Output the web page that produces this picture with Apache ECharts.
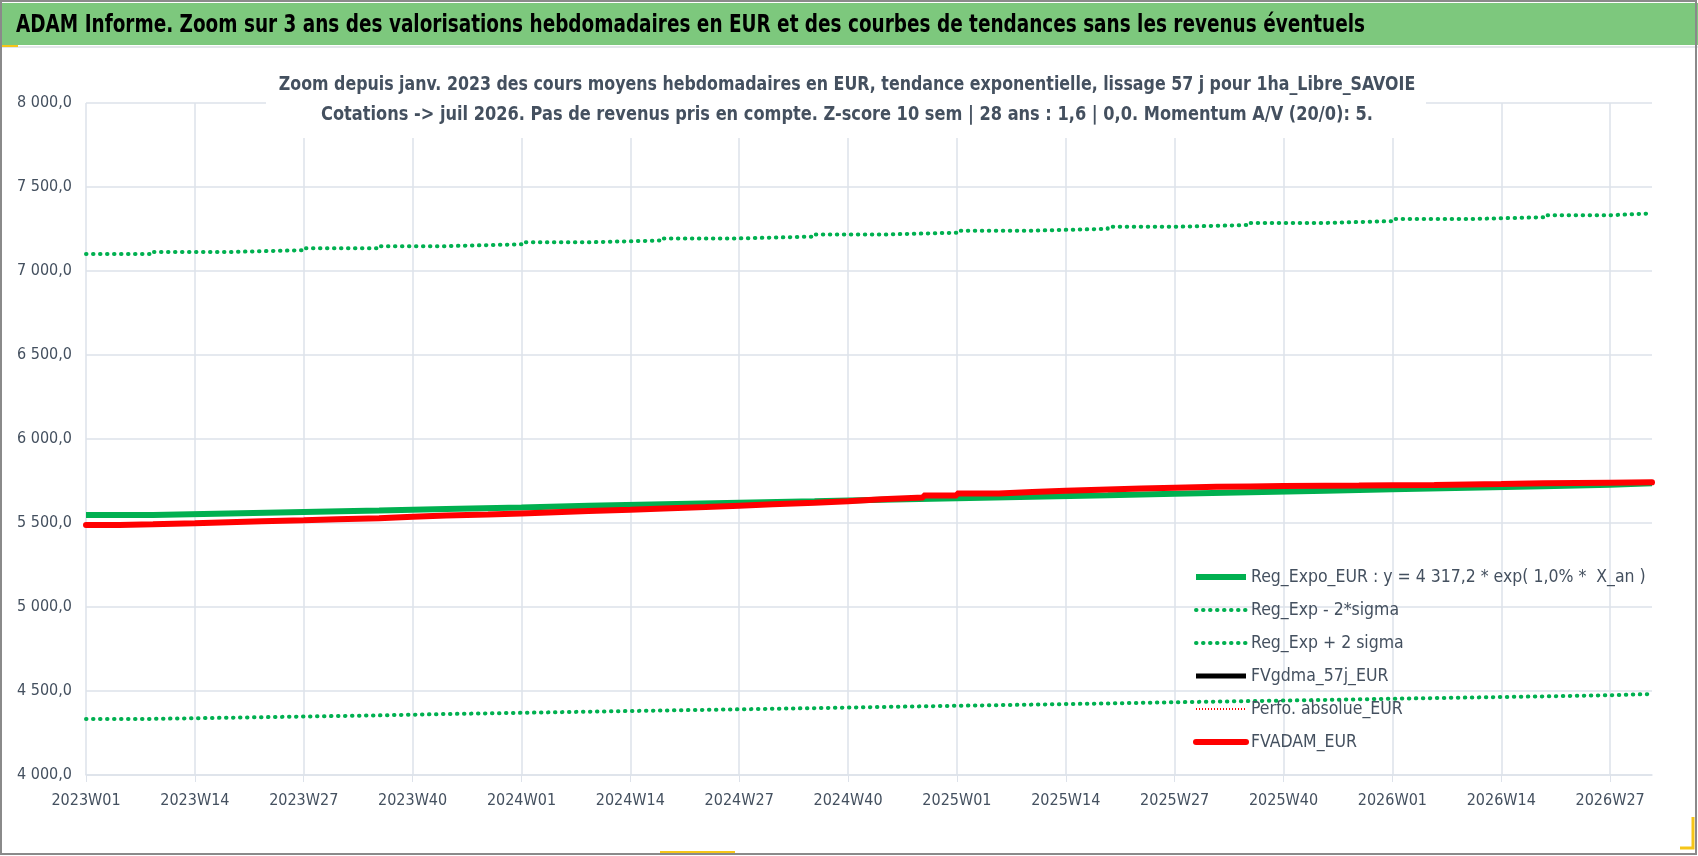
<!DOCTYPE html>
<html>
<head>
<meta charset="utf-8">
<script src="https://cdn.jsdelivr.net/npm/echarts@6/dist/echarts.min.js"></script>
<style>
html,body{margin:0;padding:0;background:#fff;}
#chart{width:1698px;height:856px;}
</style>
</head>
<body>
<div id="chart"></div>
<script>
// semaines affichees sur l'axe X
var years = [2023, 2024, 2025, 2026];
var weeksInYear = [52, 52, 52, 32];

// regression exponentielle et bandes +/- 2 sigma (paliers)
var regWeeks = ['2023W01','2023W09','2023W18','2023W27','2023W36','2023W44',
	'2024W01','2024W09','2024W18','2024W27','2024W36','2024W44',
	'2025W01','2025W10','2025W19','2025W27','2025W36','2025W45',
	'2026W01','2026W10','2026W19','2026W27','2026W32'];
var regExpoEur = [5548,5557,5566,5575,5584,5593,
	5602,5611,5620,5629,5638,5647,
	5656,5665,5674,5683,5692,5701,
	5710,5719,5728,5737,5737];
var regMinus2Sigma = [4334,4341,4348,4355,4363,4370,
	4377,4384,4391,4398,4405,4412,
	4419,4426,4433,4440,4447,4454,
	4461,4468,4475,4482,4482];
var regPlus2Sigma = [7101,7113,7124,7136,7148,7159,
	7171,7182,7194,7205,7217,7228,
	7240,7251,7263,7274,7286,7297,
	7309,7320,7332,7343,7343];

// FVADAM mensuel
var fvWeeks = ['2023W01','2023W05','2023W09','2023W14','2023W18','2023W22','2023W27','2023W31','2023W36','2023W40','2023W44','2023W49',
	'2024W01','2024W05','2024W09','2024W14','2024W18','2024W23','2024W27','2024W31','2024W36','2024W40','2024W44','2024W49',
	'2025W01','2025W06','2025W10','2025W14','2025W19','2025W23','2025W27','2025W32','2025W36','2025W40','2025W45','2025W49',
	'2026W01','2026W06','2026W10','2026W14','2026W19','2026W23','2026W27','2026W32'];
var fvadamEur = [5488,5492,5498,5504,5510,5516,5522,5529,5537,5544,5550,5557,
	5564,5571,5579,5587,5595,5603,5611,5620,5630,5641,5652,5664,
	5676,5684,5692,5700,5705,5710,5716,5718,5720,5722,5723,5725,
	5726,5729,5732,5736,5738,5740,5742,5743];

var names = ['Reg_Expo_EUR : y = 4 317,2 * exp( 1,0% *  X_an )', 'Reg_Exp - 2*sigma', 'Reg_Exp + 2 sigma',
	'FVgdma_57j_EUR', 'Perfo. absolue_EUR', 'FVADAM_EUR'];
var legendWidths = [6, 4, 4, 5, 2, 6];

var mainTitle = 'ADAM Informe. Zoom sur 3 ans des valorisations hebdomadaires en EUR et des courbes de tendances sans les revenus éventuels';
var subLine1 = 'Zoom depuis janv. 2023 des cours moyens hebdomadaires en EUR, tendance exponentielle, lissage 57 j pour 1ha_Libre_SAVOIE';
var subLine2 = 'Cotations -> juil 2026. Pas de revenus pris en compte. Z-score 10 sem | 28 ans : 1,6 | 0,0. Momentum A/V (20/0): 5.';

var FONT = "'DejaVu Sans Condensed','DejaVu Sans','Noto Sans',sans-serif";
var TXT = '#44505f';
var GRID = '#dde2ea';

var categories = [];
for (var y = 0; y < years.length; y++) {
	for (var w = 1; w <= weeksInYear[y]; w++) {
		categories.push(years[y] + 'W' + (w < 10 ? '0' + w : w));
	}
}

function pairs(xs, vs) {
	var out = [];
	for (var i = 0; i < xs.length; i++) {
		out.push([xs[i], vs[i]]);
	}
	return out;
}

function frNum(v) {
	var s = v.toFixed(1).split('.');
	return s[0].replace(/\B(?=(\d{3})+(?!\d))/g, ' ') + ',' + s[1];
}

var legendData = [];
for (var k = 0; k < names.length; k++) {
	legendData.push({ name : names[k], lineStyle : { width : legendWidths[k] } });
}

var chart = echarts.init(document.getElementById('chart'));
var option = {
	backgroundColor : '#fff',
	animation : false,
	textStyle : { fontFamily : FONT },
	graphic : [
		{ type : 'rect', z : 0, shape : { x : 0, y : 3, width : 1698, height : 42 }, style : { fill : '#7dc87d' } },
		{ type : 'line', z : 0, shape : { x1 : 0, y1 : 47, x2 : 1698, y2 : 47 }, style : { stroke : '#e3e6ea', lineWidth : 2 } },
		{ type : 'text', z : 10, x : 16, y : 25, scaleX : 0.82,
			style : { text : mainTitle, font : 'bold 25px ' + FONT, fill : '#000', verticalAlign : 'middle' } },
		{ type : 'rect', z : 5, shape : { x : 266, y : 60, width : 1160, height : 78 }, style : { fill : '#fff' } },
		{ type : 'text', z : 10, x : 847, y : 85, scaleX : 0.88,
			style : { text : subLine1, font : 'bold 20px ' + FONT, fill : TXT, align : 'center', verticalAlign : 'middle' } },
		{ type : 'text', z : 10, x : 847, y : 115, scaleX : 0.9,
			style : { text : subLine2, font : 'bold 20px ' + FONT, fill : TXT, align : 'center', verticalAlign : 'middle' } },
		{ type : 'rect', z : 100, shape : { x : 1, y : 1, width : 1695, height : 853 }, style : { fill : 'none', stroke : '#8a8a8a', lineWidth : 2 } },
		{ type : 'line', z : 100, shape : { x1 : 2, y1 : 46, x2 : 18, y2 : 46 }, style : { stroke : '#f5c518', lineWidth : 2 } },
		{ type : 'polyline', z : 100, shape : { points : [[1680, 848], [1693, 848], [1693, 817]] }, style : { stroke : '#f5c518', lineWidth : 3, fill : 'none' } },
		{ type : 'line', z : 100, shape : { x1 : 660, y1 : 852, x2 : 735, y2 : 852 }, style : { stroke : '#f5c518', lineWidth : 2 } }
	],
	legend : {
		orient : 'vertical',
		left : 1188,
		top : 560,
		itemWidth : 50,
		itemHeight : 14,
		itemGap : 9,
		itemStyle : { opacity : 0 },
		data : legendData,
		textStyle : { fontFamily : FONT, fontSize : 17.5, color : TXT, lineHeight : 24 }
	},
	grid : { left : 86, right : 46, top : 103, bottom : 81 },
	xAxis : [{
		type : 'category',
		data : categories,
		boundaryGap : false,
		axisLine : { lineStyle : { color : GRID, width : 1.5 } },
		axisTick : { show : true, length : 7, interval : 12, lineStyle : { color : GRID } },
		axisLabel : { interval : 12, margin : 18, fontSize : 16, color : TXT, fontFamily : FONT },
		splitLine : { show : true, interval : 12, lineStyle : { color : GRID, width : 1.5 } }
	}],
	yAxis : [{
		type : 'value',
		min : 4000,
		max : 8000,
		interval : 500,
		axisLine : { show : false },
		axisTick : { show : false },
		axisLabel : { margin : 14, fontSize : 16, color : TXT, fontFamily : FONT, formatter : frNum },
		splitLine : { lineStyle : { color : GRID, width : 1.5 } }
	}],
	series : [{
		name : names[0],
		type : 'line',
		step : 'end',
		symbol : 'none',
		data : pairs(regWeeks, regExpoEur),
		lineStyle : { color : '#00b050', width : 6 },
		itemStyle : { color : '#00b050' }
	}, {
		name : names[1],
		type : 'line',
		step : 'end',
		symbol : 'none',
		data : pairs(regWeeks, regMinus2Sigma),
		lineStyle : { color : '#00b050', width : 4, type : [0.5, 6.5], cap : 'round' },
		itemStyle : { color : '#00b050' }
	}, {
		name : names[2],
		type : 'line',
		step : 'end',
		symbol : 'none',
		data : pairs(regWeeks, regPlus2Sigma),
		lineStyle : { color : '#00b050', width : 4, type : [0.5, 6.5], cap : 'round' },
		itemStyle : { color : '#00b050' }
	}, {
		name : names[3],
		type : 'line',
		symbol : 'none',
		data : [],
		lineStyle : { color : '#000', width : 5 },
		itemStyle : { color : '#000' }
	}, {
		name : names[4],
		type : 'line',
		symbol : 'none',
		data : [],
		lineStyle : { color : '#ff0000', width : 2, type : [1, 2] },
		itemStyle : { color : '#ff0000' }
	}, {
		name : names[5],
		type : 'line',
		step : 'end',
		symbol : 'none',
		data : pairs(fvWeeks, fvadamEur),
		lineStyle : { color : '#ff0000', width : 6, cap : 'round' },
		itemStyle : { color : '#ff0000' }
	}]
};
chart.setOption(option);
</script>
</body>
</html>
